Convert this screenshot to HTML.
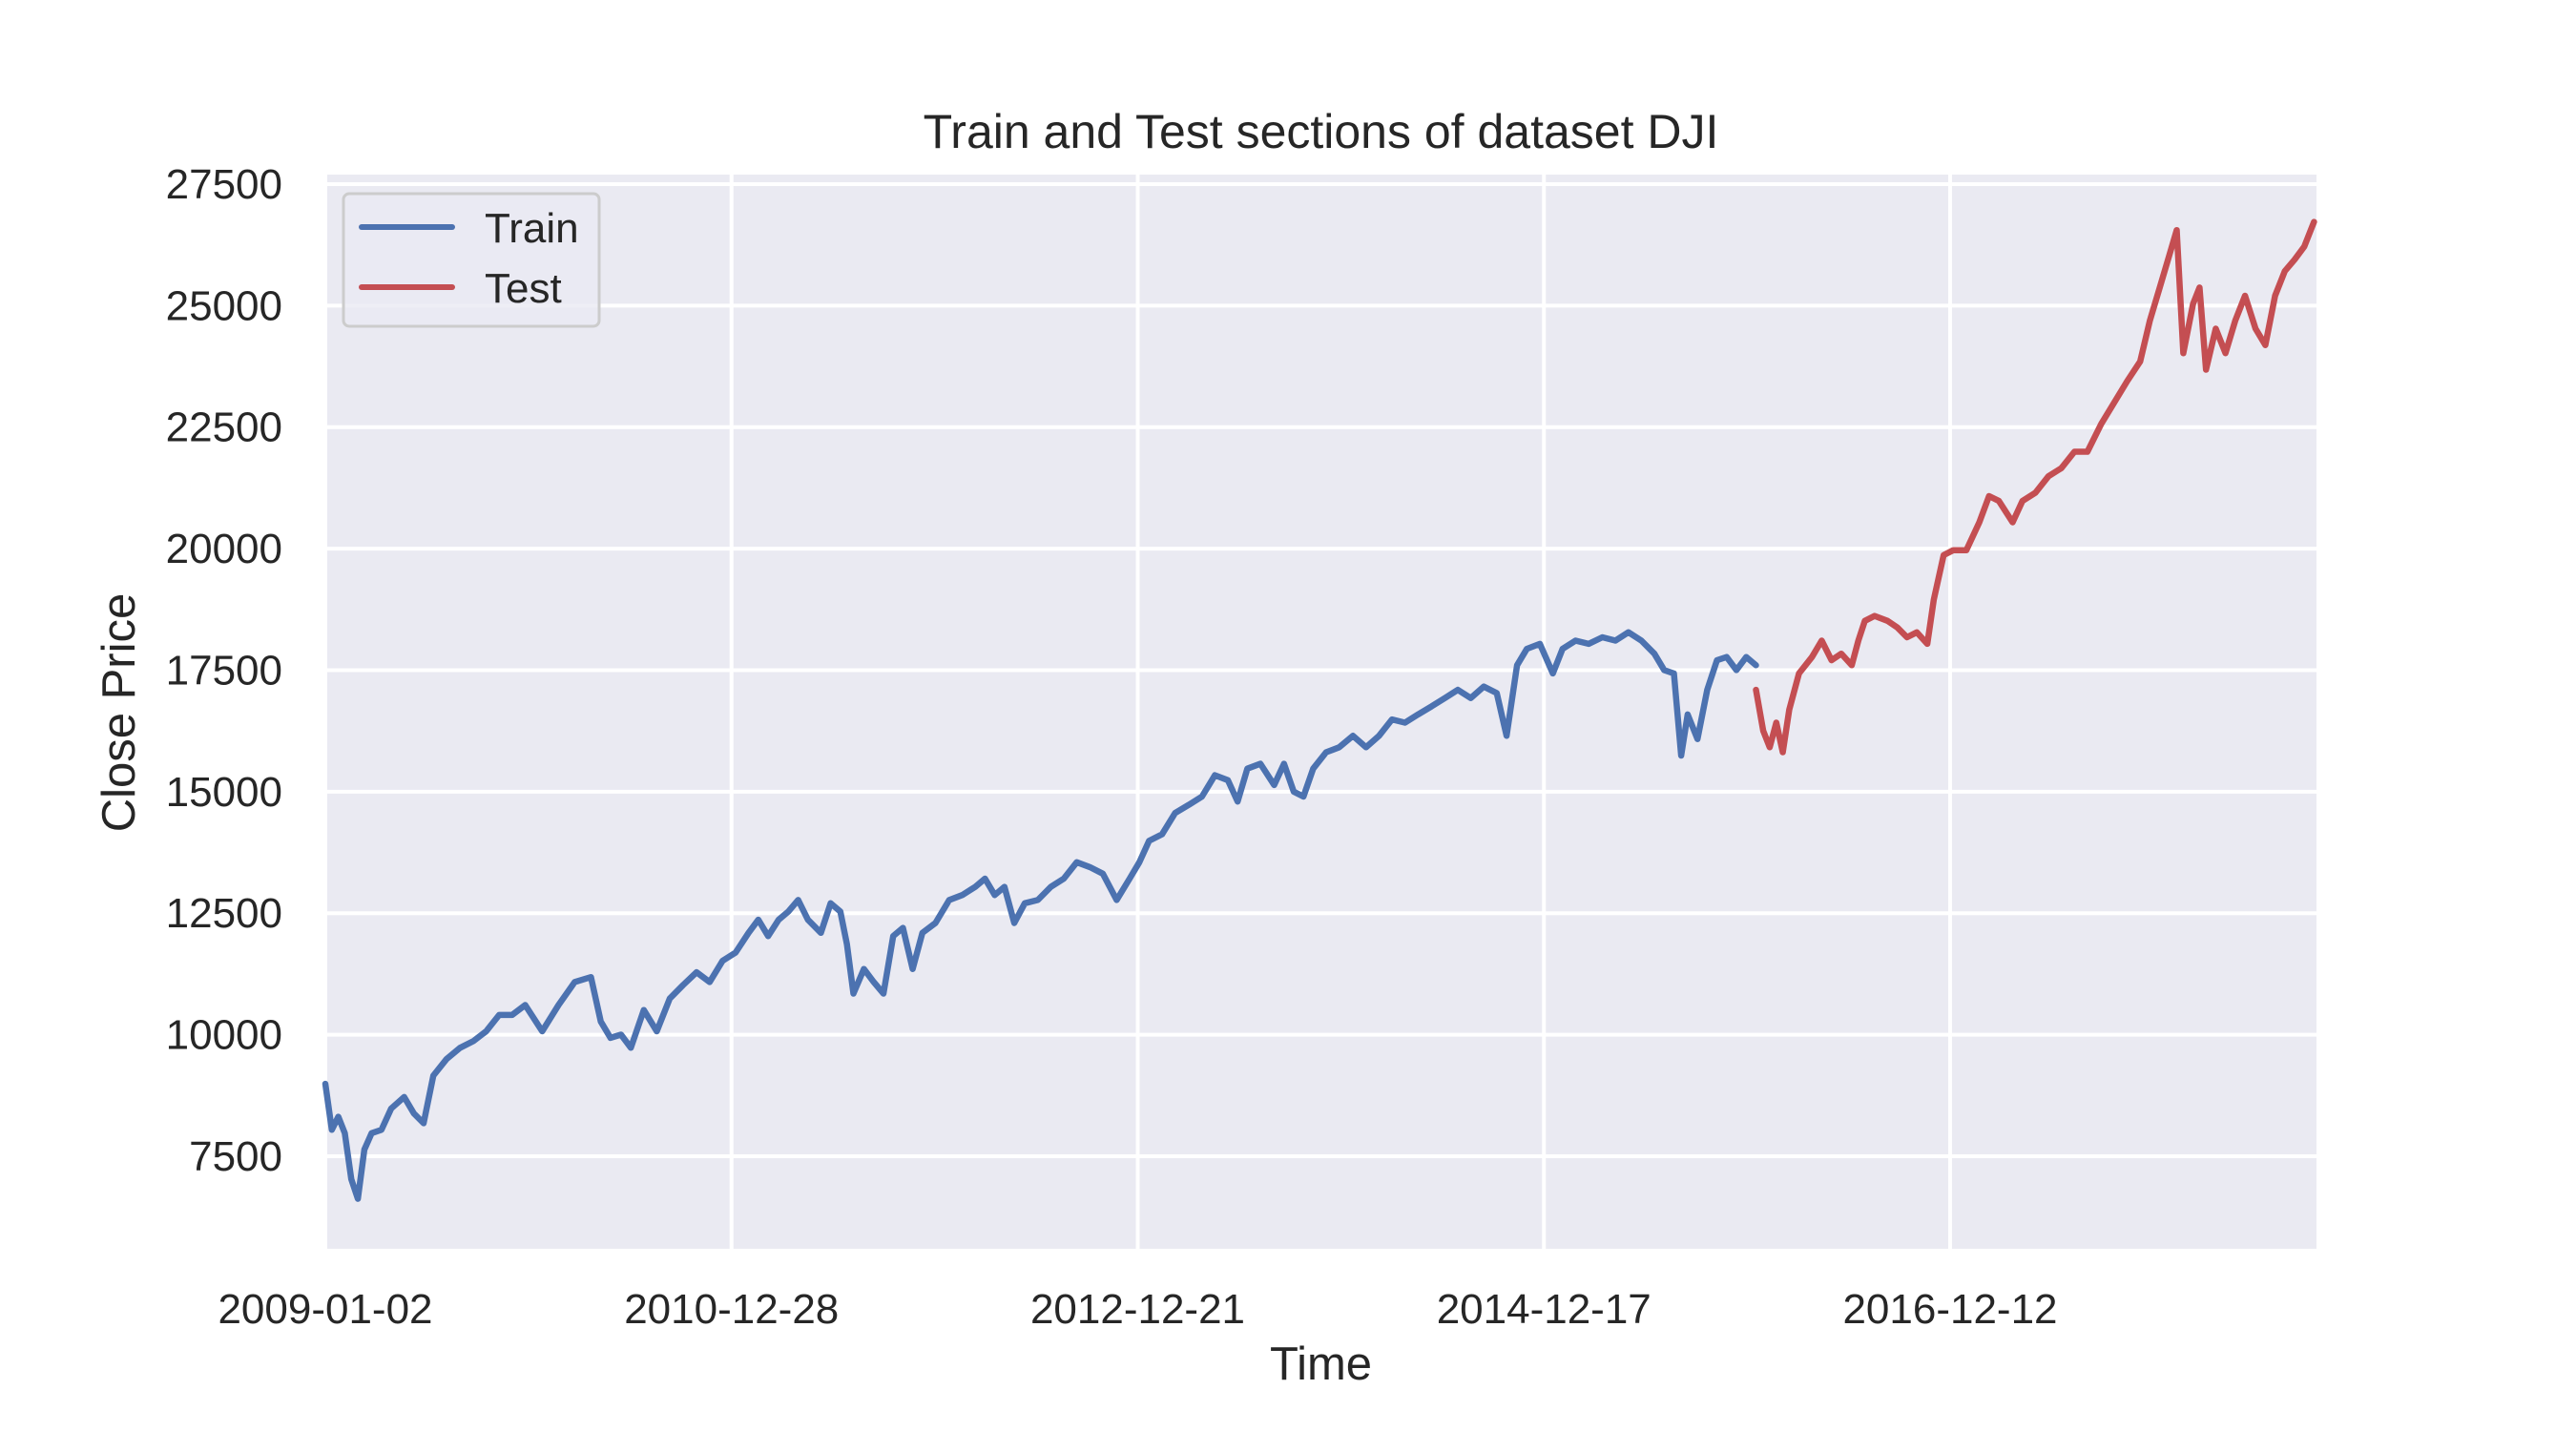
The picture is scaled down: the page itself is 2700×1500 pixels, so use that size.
<!DOCTYPE html>
<html><head><meta charset="utf-8"><style>
html,body{margin:0;padding:0;background:#fff;}
svg{display:block;font-family:"Liberation Sans",Arial,sans-serif;}
</style></head><body>
<svg id="chart" width="2700" height="1500" viewBox="0 0 2700 1500" xmlns="http://www.w3.org/2000/svg"></svg>
<script>
const trainDays=[0,8,16,24,32,40,48,57,69,81,97,109,121,133,149,166,182,198,214,230,246,267,287,307,327,339,351,364,376,392,408,424,440,457,473,489,505,521,533,545,558,570,582,594,610,622,634,642,650,663,675,687,699,711,723,735,751,768,784,800,812,824,836,848,861,877,893,909,925,941,957,974,990,1002,1014,1030,1046,1063,1079,1095,1111,1123,1135,1151,1168,1180,1192,1204,1216,1232,1248,1265,1281,1297,1313,1329,1345,1362,1378,1394,1410,1426,1442,1454,1467,1479,1495,1511,1523,1539,1555,1572,1588,1604,1620,1636,1648,1660,1669,1677,1689,1701,1713,1725,1737,1749,1761];
const trainClose=[8989,8043,8313,7975,7029,6624,7637,7975,8043,8482,8718,8381,8178,9158,9496,9732,9867,10070,10407,10407,10610,10070,10610,11083,11185,10272,9935,10002,9732,10508,10070,10745,11016,11286,11083,11522,11691,12097,12366,12029,12366,12535,12772,12366,12097,12704,12535,11860,10847,11353,11083,10847,12029,12198,11353,12097,12299,12772,12873,13042,13211,12873,13042,12299,12704,12772,13042,13211,13549,13448,13313,12772,13211,13549,13988,14123,14561,14730,14899,15339,15237,14798,15474,15575,15136,15575,15001,14899,15474,15812,15913,16150,15913,16150,16487,16420,16589,16758,16927,17096,16927,17163,17028,16150,17602,17940,18041,17433,17940,18109,18041,18176,18109,18278,18109,17839,17501,17433,15744,16589,16082,17096,17704,17771,17501,17771,17602];
const testDays=[1761,1770,1778,1786,1794,1802,1814,1830,1842,1854,1866,1879,1887,1895,1907,1923,1935,1947,1959,1972,1980,1992,2004,2020,2036,2048,2060,2077,2089,2105,2121,2137,2153,2169,2186,2202,2218,2234,2246,2258,2270,2279,2287,2299,2307,2315,2327,2339,2351,2363,2376,2388,2400,2412,2424,2436,2448];
const testClose=[17096,16251,15913,16420,15812,16690,17433,17771,18109,17704,17839,17602,18109,18514,18616,18514,18379,18176,18278,18041,18954,19866,19968,19968,20541,21082,20981,20541,20981,21150,21487,21656,21994,21994,22568,23007,23446,23852,24696,25372,26047,26554,24021,25034,25372,23683,24527,24021,24696,25203,24527,24189,25203,25710,25946,26216,26723];
const yTicks=[7500,10000,12500,15000,17500,20000,22500,25000,27500];
const xTickDays=[0,500,1000,1500,2000];
const xTickLabels=["2009-01-02","2010-12-28","2012-12-21","2014-12-17","2016-12-12"];

const L=341,R=2428,T=183,B=1309;
const xMin=0,xMax=2451,yMin=5596,yMax=27696;
function xs(d){return L+(d-xMin)/(xMax-xMin)*(R-L);}
function ys(v){return B-(v-yMin)/(yMax-yMin)*(B-T);}
const NS="http://www.w3.org/2000/svg";
const svg=document.getElementById('chart');
function mk(tag,attrs,parent){const e=document.createElementNS(NS,tag);for(const k in attrs)e.setAttribute(k,attrs[k]);(parent||svg).appendChild(e);return e;}

const bg=mk('rect',{x:L,y:T,width:R-L,height:B-T,fill:'#eaeaf2'});



yTicks.forEach(v=>{
  const g=mk('line',{x1:L,x2:R,y1:ys(v),y2:ys(v),stroke:'#fff','stroke-width':4});
  
  
  const t=mk('text',{x:296,y:ys(v)+15,'text-anchor':'end','font-size':44,fill:'#262626'});
  t.textContent=v;
  
  
});
xTickDays.forEach((d,i)=>{
  const g=mk('line',{x1:xs(d),x2:xs(d),y1:T,y2:B,stroke:'#fff','stroke-width':4});
  
  
  const t=mk('text',{x:xs(d),y:1387,'text-anchor':'middle','font-size':44,fill:'#262626'});
  t.textContent=xTickLabels[i];
  
  
});

function path(days,vals){return days.map((d,i)=>(i?'L':'M')+xs(d).toFixed(1)+','+ys(vals[i]).toFixed(1)).join('');}
const tr=mk('path',{d:path(trainDays,trainClose),fill:'none',stroke:'#4c72b0','stroke-width':6.5,'stroke-linejoin':'round','stroke-linecap':'round'});


const te=mk('path',{d:path(testDays,testClose),fill:'none',stroke:'#c44e52','stroke-width':6.5,'stroke-linejoin':'round','stroke-linecap':'round'});



const lg=mk('g',{});


mk('rect',{x:360,y:203,width:268,height:139,rx:6,fill:'#eaeaf2','fill-opacity':0.8,stroke:'#cccccc','stroke-width':3},lg);
const l1=mk('line',{x1:379,x2:474,y1:238,y2:238,stroke:'#4c72b0','stroke-width':6,'stroke-linecap':'round'},lg);


const t1=mk('text',{x:508,y:254,'font-size':44,fill:'#262626'},lg);t1.textContent='Train';


const l2=mk('line',{x1:379,x2:474,y1:301,y2:301,stroke:'#c44e52','stroke-width':6,'stroke-linecap':'round'},lg);


const t2=mk('text',{x:508,y:317,'font-size':44,fill:'#262626'},lg);t2.textContent='Test';



const title=mk('text',{x:(L+R)/2,y:155,'text-anchor':'middle','font-size':50,fill:'#262626'});
title.textContent='Train and Test sections of dataset DJI';


const xl=mk('text',{x:(L+R)/2,y:1446,'text-anchor':'middle','font-size':49,fill:'#262626'});
xl.textContent='Time';


const yl=mk('text',{x:0,y:0,'text-anchor':'middle','font-size':49,fill:'#262626',transform:'translate(141,747) rotate(-90)'});
yl.textContent='Close Price';


</script>
</body></html>
